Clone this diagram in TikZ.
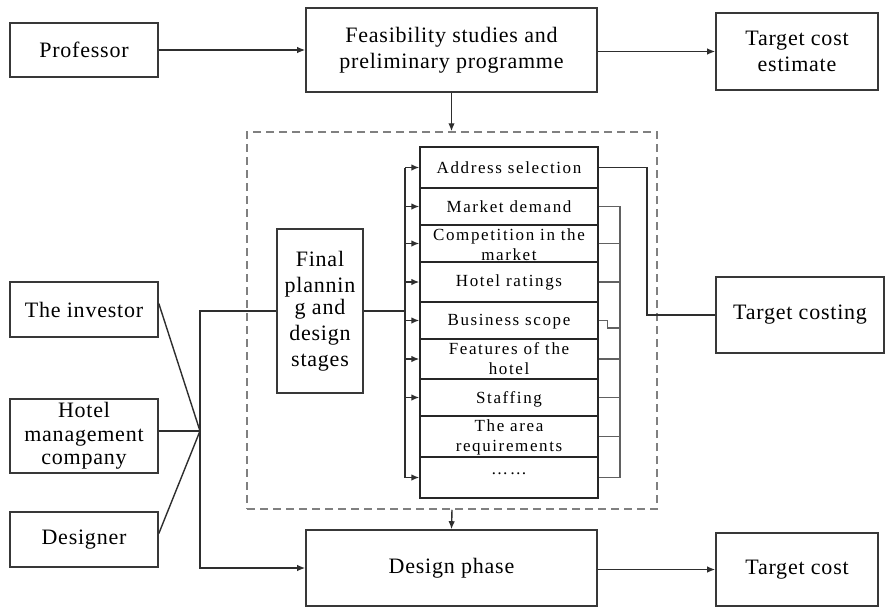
\documentclass[tikz,border=0pt]{standalone}
\usepackage{fontspec}
\usetikzlibrary{arrows.meta,calc}
\newfontfamily\labelfont[LetterSpace=3.5]{Liberation Serif}
\newfontfamily\rowfont[LetterSpace=9.5]{Liberation Serif}
\begin{document}
\begin{tikzpicture}[x=1pt,y=-1pt,
  box/.style={draw=black!78,line width=1.6pt,inner sep=0pt,align=center,fill=white,
    font=\labelfont\fontsize{22}{26}\selectfont},
  rowbox/.style={draw=black!85,line width=1.4pt,inner sep=0pt,minimum width=178},
  rowtxt/.style={inner sep=0pt,align=center,font=\rowfont\fontsize{17}{20}\selectfont},
  grp/.style={draw=black!50,line width=1.5pt,dash pattern=on 8pt off 5pt,inner sep=0pt},
  conn/.style={draw=black!82,line width=1.4pt},
  arr/.style={conn,-{Latex[length=8pt,width=6.5pt]}},
  gbus/.style={draw=black!62,line width=1.5pt}]
\useasboundingbox[fill=white] (0,0) rectangle (886,608);

% dashed group
\node[grp,minimum width=410,minimum height=377] (grp) at (452,320.5) {};

% main boxes
\node[box,minimum width=148,minimum height=54] (prof) at (84,50) {Professor};
\node[box,minimum width=291,minimum height=84] (feas) at (451.5,50) {Feasibility studies and\\preliminary programme};
\node[box,minimum width=162,minimum height=77] (tce) at (797,51.5) {Target cost\\estimate};
\node[box,minimum width=148,minimum height=55] (inv) at (84,309.5) {The investor};
\node[box,minimum width=148,minimum height=74] (hmc) at (84,436) {Hotel\\[-2pt]management\\[-3pt]company};
\node[box,minimum width=148,minimum height=55] (des) at (84,539.5) {Designer};
\node[box,minimum width=86,minimum height=164] (fin) at (320,311) {Final\\plannin\strut\\[-4pt]g and\\design\\stages};
\node[box,minimum width=168,minimum height=76] (tcg) at (800,315) {Target costing};
\node[box,minimum width=291,minimum height=76] (dph) at (451.5,568) {Design phase};
\node[box,minimum width=162,minimum height=73] (tc) at (797,569.5) {Target cost};

% stack rows
\node[rowbox,minimum height=41] (r1) at (509,167.5) {};
\node[rowbox,minimum height=37] (r2) at (509,206.5) {};
\node[rowbox,minimum height=37] (r3) at (509,243.5) {};
\node[rowbox,minimum height=40] (r4) at (509,282) {};
\node[rowbox,minimum height=37] (r5) at (509,320.5) {};
\node[rowbox,minimum height=40] (r6) at (509,359) {};
\node[rowbox,minimum height=37] (r7) at (509,397.5) {};
\node[rowbox,minimum height=41] (r8) at (509,436.5) {};
\node[rowbox,minimum height=41] (r9) at (509,477.5) {};

\node[rowtxt] (t1) at (509,168) {Address selection};
\node[rowtxt] (t2) at (509,207) {Market demand};
\node[rowtxt] (t3) at (509,245) {Competition in the\\market};
\node[rowtxt] (t4) at (509,282) {Hotel ratings};
\node[rowtxt] (t5) at (509,322) {Business scope};
\node[rowtxt] (t6) at (509,359) {Features of the\\hotel};
\node[rowtxt] (t7) at (509,399) {Staffing};
\node[rowtxt] (t8) at (509,437) {The area\\requirements};
\node[rowtxt] (t9) at (509,474) {……};

% coordinates
\coordinate (J) at (200,431);
\coordinate (bL) at (405,311);
\coordinate (K) at (647,315);
\coordinate (bR) at (620,328);

% top row arrows
\draw[arr] (prof.east) -- (prof.east -| feas.west);
\draw[arr] (feas.east |- tce.west) -- (tce.west);
\draw[arr] (feas.south) -- (feas.south |- grp.north);
\draw[arr] (grp.south) -- (dph.north);
\draw[arr] (dph.east |- tc.west) -- (tc.west);

% left inputs
\draw[conn] ([yshift=6pt]inv.east) -- (J);
\draw[conn] (hmc.east |- J) -- (J);
\draw[conn] ([yshift=6pt]des.east) -- (J);
\draw[arr] (fin.west) -- (fin.west -| J) -- (J |- dph.west) -- (dph.west);

% final planning to stack
\draw[conn] (fin.east) -- (bL);
\draw[conn] (bL |- r1.west) -- (bL |- r9.west);
\foreach \r in {r1,r2,r3,r4,r5,r6,r7,r9}
  \draw[arr] (bL |- \r.west) -- (\r.west);

% address selection to target costing
\draw[conn] (r1.east) -- (r1.east -| K) -- (K |- tcg.west) -- (tcg.west);

% right bus
\draw[gbus] (r2.east) -- (r2.east -| bR) -- (bR |- r9.east) -- (r9.east);
\foreach \r in {r3,r4,r6,r7,r8}
  \draw[gbus] (\r.east) -- (\r.east -| bR);
\draw[gbus] (r5.east) -- ++(9,0) |- (bR);
\end{tikzpicture}
\end{document}
